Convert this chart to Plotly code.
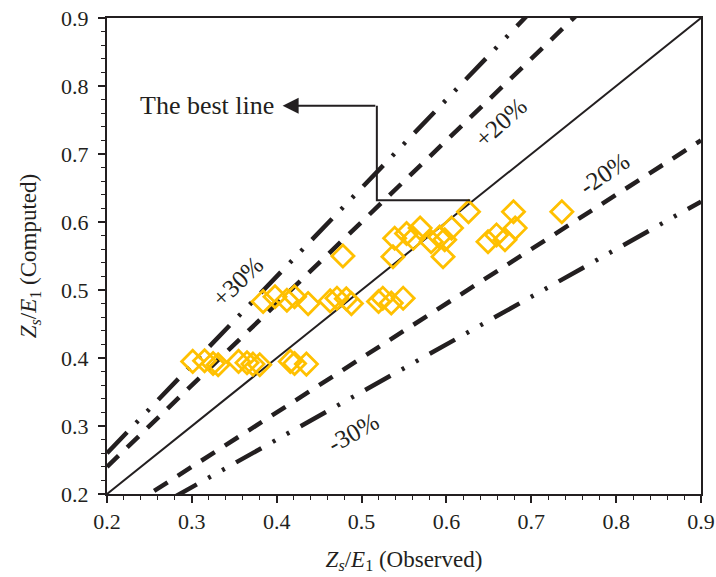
import plotly.graph_objects as go

# Observed and computed Zs/E1 values
observed = [0.301, 0.315, 0.325, 0.331, 0.355, 0.365, 0.372, 0.380, 0.416, 0.421, 0.435,
            0.384, 0.398, 0.412, 0.421, 0.437, 0.463, 0.471, 0.482, 0.488, 0.520, 0.525, 0.535, 0.549,
            0.478,
            0.626, 0.539, 0.553, 0.561, 0.569, 0.537, 0.582, 0.592, 0.598, 0.606, 0.596,
            0.649, 0.659, 0.669, 0.679, 0.681, 0.736]
computed = [0.395, 0.396, 0.392, 0.390, 0.395, 0.393, 0.391, 0.390, 0.395, 0.392, 0.391,
            0.483, 0.490, 0.485, 0.490, 0.480, 0.484, 0.488, 0.487, 0.480, 0.483, 0.488, 0.481, 0.488,
            0.550,
            0.615, 0.576, 0.583, 0.576, 0.591, 0.549, 0.571, 0.578, 0.574, 0.591, 0.549,
            0.571, 0.581, 0.574, 0.615, 0.591, 0.615]

# Reference lines: factor applied to observed value
line_x = [0.2, 0.9]
line_factors = [1.0, 1.2, 0.8, 1.3, 0.7]
line_labels = ["The best line", "+20%", "-20%", "+30%", "-30%"]

FONT = "Liberation Serif, Times New Roman, serif"
INK = "#231f20"
dash_20 = "16px,12px"
dash_30 = "29px,13px,3px,13px,3px,13px"
styles = {1.0: dict(width=2, dash="solid"),
          1.2: dict(width=4.5, dash=dash_20),
          0.8: dict(width=4.5, dash=dash_20),
          1.3: dict(width=4.5, dash=dash_30),
          0.7: dict(width=4.5, dash=dash_30)}

fig = go.Figure()
for f, name in zip(line_factors, line_labels):
    fig.add_trace(go.Scatter(x=line_x, y=[f * v for v in line_x], mode="lines",
                             line=dict(color=INK, **styles[f]), name=name,
                             showlegend=False, hoverinfo="skip"))

fig.add_trace(go.Scatter(x=observed, y=computed, mode="markers",
                         marker=dict(symbol="diamond-open", size=17, color="#FFC000",
                                     line=dict(width=2.8, color="#FFC000")),
                         showlegend=False, name="Data"))

# Text labels for bands
band_texts = [("+30%", 0.354, 0.512, -44), ("+20%", 0.664, 0.746, -42),
              ("-20%", 0.786, 0.672, -34), ("-30%", 0.490, 0.291, -29)]
for t, x, y, ang in band_texts:
    fig.add_annotation(x=x, y=y, text=t, showarrow=False, textangle=ang,
                       font=dict(family=FONT, size=25, color=INK))

# "The best line" callout
fig.add_annotation(x=0.318, y=0.771, text="The best line", showarrow=False,
                   font=dict(family=FONT, size=26, color=INK))
fig.add_annotation(x=0.407, y=0.771, ax=0.518, ay=0.771, axref="x", ayref="y",
                   text="", showarrow=True, arrowhead=2, arrowsize=1.6, arrowwidth=2,
                   arrowcolor=INK)
fig.add_shape(type="path", path="M 0.518 0.771 L 0.518 0.632 L 0.628 0.632",
              xref="x", yref="y", line=dict(color=INK, width=2))

axis_common = dict(showline=True, linecolor=INK, linewidth=2, mirror=True,
                   ticks="outside", ticklen=7, tickwidth=1.5, tickcolor=INK,
                   dtick=0.1, tickformat=".1f", showgrid=False, zeroline=False,
                   ticklabeloverflow="allow",
                   tickfont=dict(family=FONT, size=22, color=INK),
                   minor=dict(dtick=0.02, ticks="outside", ticklen=4, tickwidth=1.2,
                              tickcolor=INK, showgrid=False))

fig.update_xaxes(range=[0.2, 0.9], tick0=0.2, automargin=False,
                 title=dict(text="<i>Z<sub>s</sub></i>/<i>E</i><sub>1</sub> (Observed)",
                            font=dict(family=FONT, size=23, color=INK), standoff=17),
                 **axis_common)
fig.update_yaxes(range=[0.2, 0.9], tick0=0.2, automargin=False, ticklabelstandoff=5,
                 title=dict(text="<i>Z<sub>s</sub></i>/<i>E</i><sub>1</sub> (Computed)",
                            font=dict(family=FONT, size=23, color=INK), standoff=18),
                 **axis_common)

fig.update_layout(width=716, height=577, plot_bgcolor="white", paper_bgcolor="white",
                  margin=dict(l=107, r=15, t=18, b=83), showlegend=False)

# Remove the page's default body margin so the figure fills the window exactly
fig.write_html("out.html", config={"displayModeBar": False},
               post_script="document.body.style.margin='0px';document.body.style.overflow='hidden';")
